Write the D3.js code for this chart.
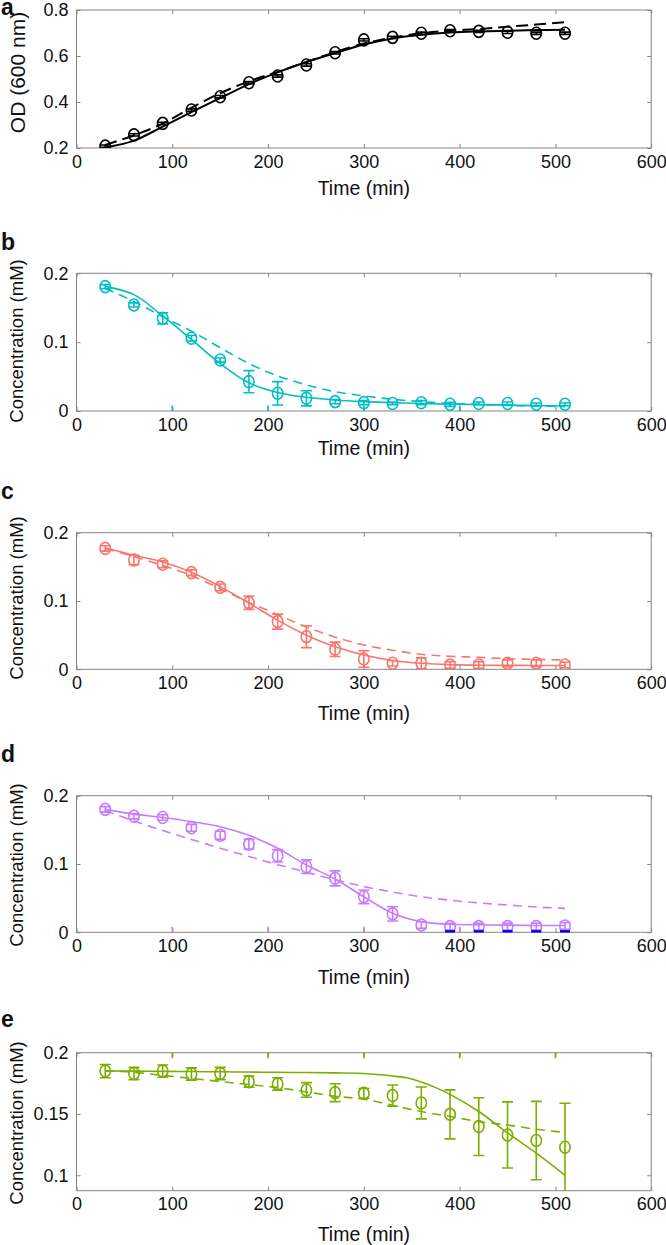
<!DOCTYPE html>
<html><head><meta charset="utf-8">
<script src="https://cdn.jsdelivr.net/npm/d3@7"></script>
<style>
body{margin:0;background:#fff}
text{font-family:"Liberation Sans",Arial,Helvetica,sans-serif;fill:#111}
</style>
</head><body>
<svg id="chart" width="666" height="1245"></svg>
<script>
// ---------- data ----------
const times = [30,60,90,120,150,180,210,240,270,300,330,360,390,420,450,480,510];
const xTicks = [0,100,200,300,400,500,600];

// a: OD
const odMean = [0.208,0.257,0.307,0.365,0.423,0.484,0.513,0.561,0.614,0.670,0.681,0.699,0.710,0.707,0.703,0.699,0.699];
const odErr  = [0.005,0.005,0.005,0.005,0.005,0.005,0.005,0.005,0.005,0.005,0.005,0.005,0.005,0.005,0.005,0.005,0.005];
const odSolid  = [0.202,0.232,0.293,0.356,0.417,0.478,0.529,0.574,0.613,0.650,0.676,0.692,0.702,0.707,0.710,0.713,0.714];
const odDashed = [0.213,0.255,0.306,0.375,0.438,0.490,0.531,0.574,0.617,0.654,0.680,0.699,0.710,0.717,0.727,0.737,0.747];
const odTicks = [0.2,0.4,0.6,0.8];

// b
const bMean = [0.1806,0.154,0.1346,0.1056,0.074,0.0426,0.0257,0.0184,0.0136,0.0121,0.011,0.012,0.0097,0.011,0.011,0.0097,0.0097];
const bErr  = [0.003,0.003,0.008,0.004,0.003,0.016,0.017,0.011,0.003,0.003,0.002,0.003,0.003,0.002,0.002,0.002,0.002];
const bSolid  = [0.181,0.169,0.138,0.104,0.069,0.041,0.027,0.020,0.016,0.0136,0.012,0.011,0.010,0.0092,0.0085,0.0078,0.0073];
const bDashed = [0.178,0.159,0.137,0.116,0.092,0.069,0.051,0.038,0.028,0.022,0.017,0.0136,0.011,0.0097,0.008,0.0073,0.0063];

// c
const cMean = [0.177,0.160,0.1537,0.1415,0.120,0.0976,0.0698,0.0478,0.0293,0.0151,0.0088,0.0088,0.0063,0.0063,0.0088,0.0088,0.0063];
const cErr  = [0.004,0.007,0.005,0.004,0.005,0.0098,0.011,0.016,0.0105,0.012,0.004,0.008,0.005,0.005,0.005,0.005,0.004];
const cSolid  = [0.178,0.167,0.157,0.142,0.121,0.097,0.072,0.050,0.033,0.021,0.013,0.0088,0.0068,0.006,0.0058,0.0056,0.0055];
const cDashed = [0.177,0.165,0.152,0.137,0.118,0.098,0.080,0.062,0.047,0.0356,0.028,0.022,0.019,0.0175,0.0155,0.0145,0.0137];

// d
const dMean = [0.180,0.170,0.168,0.153,0.142,0.129,0.112,0.096,0.079,0.052,0.027,0.0107,0.0083,0.0083,0.0083,0.0083,0.0093];
const dErr  = [0.004,0.004,0.004,0.005,0.006,0.007,0.009,0.010,0.011,0.010,0.0105,0.005,0.005,0.005,0.005,0.005,0.005];
const dSolid  = [0.180,0.173,0.168,0.162,0.1546,0.142,0.123,0.0985,0.078,0.052,0.028,0.0156,0.0117,0.011,0.0105,0.010,0.010];
const dDashed = [0.178,0.163,0.149,0.136,0.123,0.111,0.099,0.088,0.077,0.067,0.059,0.052,0.047,0.043,0.040,0.037,0.035];
const dBlueTimes = [390,420,450,480,510];

// e
const eMean = [0.185,0.183,0.185,0.1826,0.183,0.1764,0.1745,0.1696,0.1674,0.1668,0.165,0.159,0.1497,0.1397,0.1329,0.1283,0.1228];
const eErr  = [0.0054,0.005,0.005,0.005,0.005,0.0046,0.005,0.006,0.0073,0.004,0.0087,0.013,0.020,0.0236,0.027,0.032,0.036];
const eSolidTimes = [30,60,90,120,150,180,210,240,270,300,330,345,360,375,390,420,450,480,510];
const eSolid  = [0.185,0.185,0.1848,0.1846,0.1844,0.1842,0.184,0.1838,0.1835,0.183,0.181,0.1795,0.176,0.1715,0.166,0.152,0.1345,0.118,0.100];
const eDashed = [0.1855,0.184,0.1815,0.179,0.1765,0.174,0.1715,0.168,0.1645,0.162,0.157,0.152,0.148,0.1437,0.141,0.1375,0.135];

const concTicks = [0,0.1,0.2];
const eTicks = [0.1,0.15,0.2];

// ---------- layout ----------
const svg = d3.select("#chart");
const X0 = 76.5, X1 = 651.2;
const x = d3.scaleLinear().domain([0,600]).range([X0,X1]);

const panels = [
  {letter:"a", top:10, bottom:148, dom:[0.2,0.8], ticks:odTicks, mean:odMean, err:odErr,
   solid:odSolid, solidT:times, dashed:odDashed, color:"#000", lw:2, dash:"12,6",
   letterY:15, xlabY:195, ylab:"OD (600 nm)", ylabSize:21, ylabX:25, ylabY:72.5},
  {letter:"b", top:273.3, bottom:411, dom:[0,0.2], ticks:concTicks, mean:bMean, err:bErr,
   solid:bSolid, solidT:times, dashed:bDashed, color:"#00BFC4", lw:1.6, dash:"9,6",
   letterY:250, xlabY:455, ylab:"Concentration (mM)", ylabSize:18.5, ylabX:23, ylabY:341,
   colorTicksBottom:[100,200,300,400]},
  {letter:"c", top:532.7, bottom:669.3, dom:[0,0.2], ticks:concTicks, mean:cMean, err:cErr,
   solid:cSolid, solidT:times, dashed:cDashed, color:"#F8766D", lw:1.6, dash:"9,6",
   letterY:499, xlabY:720, ylab:"Concentration (mM)", ylabSize:18.5, ylabX:23, ylabY:598},
  {letter:"d", top:795.7, bottom:932.3, dom:[0,0.2], ticks:concTicks, mean:dMean, err:dErr,
   solid:dSolid, solidT:times, dashed:dDashed, color:"#C77CFF", lw:1.6, dash:"9,6",
   letterY:762, xlabY:984, ylab:"Concentration (mM)", ylabSize:18.5, ylabX:23, ylabY:865,
   colorTicksBottom:[100,200,300,400], blue:dBlueTimes},
  {letter:"e", top:1052.7, bottom:1190.7, dom:[0.0874,0.2], ticks:eTicks, mean:eMean, err:eErr,
   solid:eSolid, solidT:eSolidTimes, dashed:eDashed, color:"#7CAE00", lw:1.6, dash:"9,6",
   letterY:1027, xlabY:1241, ylab:"Concentration (mM)", ylabSize:18.5, ylabX:23, ylabY:1123,
   colorTicksTop:[100,200,300,400,500]}
];

const fmt = d3.format("~g");
const boxCol = "#858585";

panels.forEach((p,i) => {
  const y = d3.scaleLinear().domain(p.dom).range([p.bottom,p.top]);
  const g = svg.append("g");

  // clip
  const cid = "clip"+i;
  svg.append("clipPath").attr("id",cid).append("rect")
     .attr("x",X0).attr("y",p.top).attr("width",X1-X0).attr("height",p.bottom-p.top);

  // axes
  const styleAxis = sel => {
    sel.select(".domain").remove();
    sel.selectAll(".tick line").attr("stroke",boxCol);
    sel.selectAll(".tick text").style("font-size","18px").attr("fill","#111");
  };
  g.append("g").attr("transform",`translate(0,${p.bottom})`)
    .call(d3.axisBottom(x).tickValues(xTicks).tickSize(-4).tickPadding(7).tickFormat(d3.format("d")))
    .call(styleAxis);
  g.append("g").attr("transform",`translate(0,${p.top})`)
    .call(d3.axisTop(x).tickValues(xTicks).tickSize(-4).tickFormat(""))
    .call(styleAxis);
  g.append("g").attr("transform",`translate(${X0},0)`)
    .call(d3.axisLeft(y).tickValues(p.ticks).tickSize(-4).tickPadding(8).tickFormat(fmt))
    .call(styleAxis);
  g.append("g").attr("transform",`translate(${X1},0)`)
    .call(d3.axisRight(y).tickValues(p.ticks).tickSize(-4).tickFormat(""))
    .call(styleAxis);

  // box
  g.append("rect").attr("x",X0).attr("y",p.top).attr("width",X1-X0).attr("height",p.bottom-p.top)
    .attr("fill","none").attr("stroke",boxCol).attr("stroke-width",1);

  // coloured inner ticks
  if (p.colorTicksBottom) {
    g.selectAll(null).data(p.colorTicksBottom).enter().append("line")
      .attr("x1",d=>x(d)).attr("x2",d=>x(d)).attr("y1",p.bottom).attr("y2",p.bottom-5.5)
      .attr("stroke",p.color).attr("stroke-width",1.6);
  }
  if (p.colorTicksTop) {
    g.selectAll(null).data(p.colorTicksTop).enter().append("line")
      .attr("x1",d=>x(d)).attr("x2",d=>x(d)).attr("y1",p.top).attr("y2",p.top+5.5)
      .attr("stroke",p.color).attr("stroke-width",1.6);
  }

  const dg = g.append("g").attr("clip-path",`url(#${cid})`);
  const line = d3.line().x(d=>x(d[0])).y(d=>y(d[1])).curve(d3.curveCatmullRom.alpha(0.5));

  dg.append("path").attr("d", line(times.map((t,k)=>[t,p.dashed[k]])))
    .attr("fill","none").attr("stroke",p.color).attr("stroke-width",p.lw).attr("stroke-dasharray",p.dash);
  dg.append("path").attr("d", line(p.solidT.map((t,k)=>[t,p.solid[k]])))
    .attr("fill","none").attr("stroke",p.color).attr("stroke-width",p.lw);

  const pts = times.map((t,k)=>({t, m:p.mean[k], e:p.err[k]}));
  const eb = dg.selectAll(null).data(pts).enter().append("g").attr("stroke",p.color).attr("stroke-width",1.6).attr("fill","none");
  eb.append("line").attr("x1",d=>x(d.t)).attr("x2",d=>x(d.t)).attr("y1",d=>y(d.m-d.e)).attr("y2",d=>y(d.m+d.e));
  eb.append("line").attr("x1",d=>x(d.t)-5.5).attr("x2",d=>x(d.t)+5.5).attr("y1",d=>y(d.m-d.e)).attr("y2",d=>y(d.m-d.e));
  eb.append("line").attr("x1",d=>x(d.t)-5.5).attr("x2",d=>x(d.t)+5.5).attr("y1",d=>y(d.m+d.e)).attr("y2",d=>y(d.m+d.e));
  eb.append("ellipse").attr("cx",d=>x(d.t)).attr("cy",d=>y(d.m)).attr("rx",5.2).attr("ry",6);

  if (p.blue) {
    g.selectAll(null).data(p.blue).enter().append("line")
      .attr("x1",d=>x(d)-5).attr("x2",d=>x(d)+5).attr("y1",y(0)-1).attr("y2",y(0)-1)
      .attr("stroke","#0000FF").attr("stroke-width",2.5);
  }

  // labels
  svg.append("text").attr("x",1).attr("y",p.letterY).text(p.letter)
    .style("font-size","23px").style("font-weight","bold");
  svg.append("text").attr("x",(X0+X1)/2).attr("y",p.xlabY).attr("text-anchor","middle")
    .style("font-size","19.5px").text("Time (min)");
  svg.append("text").attr("transform",`translate(${p.ylabX},${p.ylabY}) rotate(-90)`)
    .attr("text-anchor","middle").style("font-size",p.ylabSize+"px").text(p.ylab);
});
</script>
</body></html>
